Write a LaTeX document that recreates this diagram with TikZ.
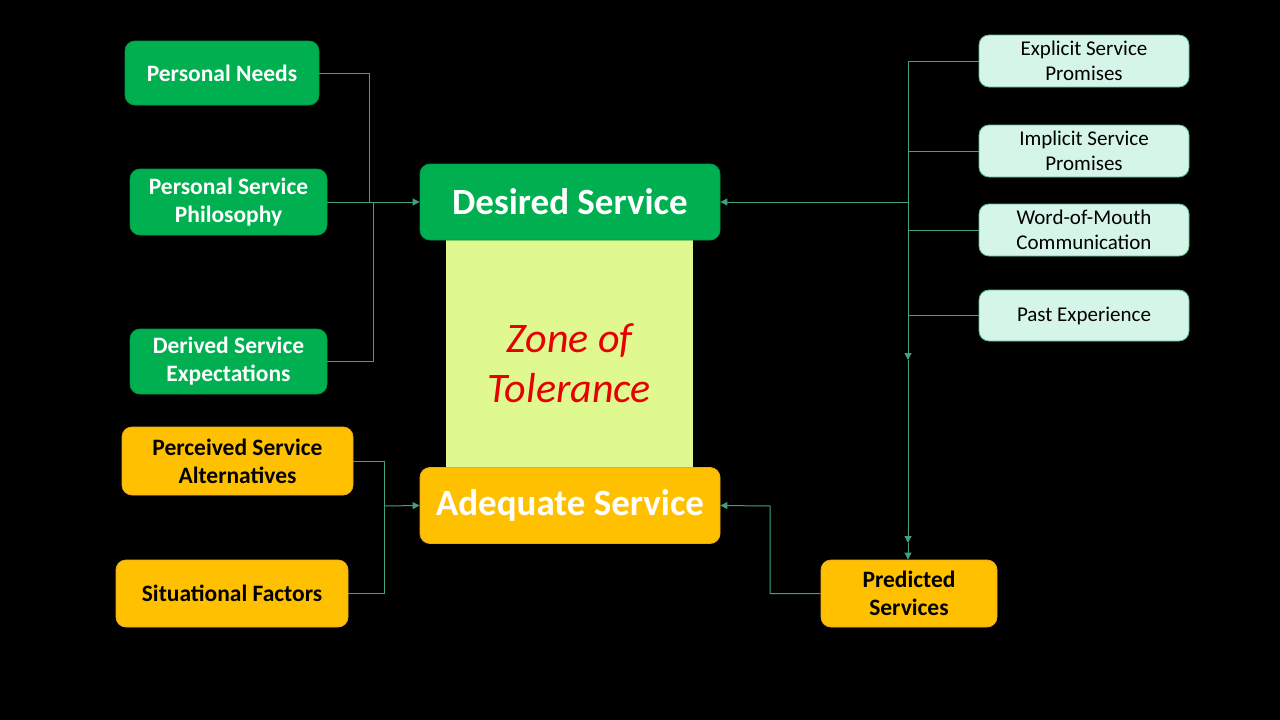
\documentclass[tikz,border=0pt]{standalone}
\usepackage{fontspec}
\setmainfont{Carlito}
\usetikzlibrary{arrows.meta}
\definecolor{grnfill}{RGB}{0,176,80}
\definecolor{grnline}{RGB}{0,150,70}
\definecolor{orfill}{RGB}{255,192,0}
\definecolor{orline}{RGB}{230,170,40}
\definecolor{mintfill}{RGB}{214,245,233}
\definecolor{mintline}{RGB}{90,190,140}
\definecolor{zonefill}{RGB}{224,248,144}
\definecolor{zonetext}{RGB}{230,0,0}
\definecolor{link}{RGB}{64,160,128}
\tikzset{
  x=1pt, y=-1pt,
  box/.style={rounded corners=10pt, align=center, inner sep=0pt, line width=0.8pt},
  greenbox/.style={box, fill=grnfill, draw=grnline, text=white,
    font=\bfseries\fontsize{23.5}{28}\selectfont},
  orangebox/.style={box, fill=orfill, draw=orline, text=black,
    font=\bfseries\fontsize{23.5}{28}\selectfont},
  mintbox/.style={box, fill=mintfill, draw=mintline, text=black,
    font=\fontsize{21}{25}\selectfont, minimum width=210pt, minimum height=52pt},
  bigbox/.style={box, text=white, minimum width=300pt, minimum height=76pt,
    font=\bfseries\fontsize{37}{44}\selectfont},
  link/.style={draw=link, line width=1pt},
  tip/.style={link, -{Triangle[length=7pt,width=7pt]}},
}
\begin{document}
\begin{tikzpicture}
\fill[black] (0,0) rectangle (1280,720);
\useasboundingbox (0,0) rectangle (1280,720);

% tolerance band between the two service levels
\node[fill=zonefill, minimum width=247pt, minimum height=228pt, inner sep=0pt]
  (zone) at (569.5,353) {};
\node[align=center, text=zonetext, inner sep=0pt,
      font=\itshape\fontsize{42}{50}\selectfont]
  (zonelabel) at (569.5,363) {Zone of\\Tolerance};

% central service levels
\node[bigbox, fill=grnfill, draw=grnline] (desired) at (570,202) {Desired Service};
\node[bigbox, fill=orfill, draw=orline] (adequate) at (570,505.5) {Adequate Service};

% left-hand drivers of desired service
\node[greenbox, minimum width=194pt, minimum height=64pt] (needs) at (222,73) {Personal Needs};
\node[greenbox, minimum width=197pt, minimum height=66pt] (philo) at (228.5,202) {Personal Service\\Philosophy};
\node[greenbox, minimum width=197pt, minimum height=65pt] (derived) at (228.5,361.5) {Derived Service\\Expectations};

% left-hand drivers of adequate service
\node[orangebox, minimum width=231pt, minimum height=68pt] (alts) at (237.5,461) {Perceived Service\\Alternatives};
\node[orangebox, minimum width=232pt, minimum height=67pt] (situ) at (232,593.5) {Situational Factors};

% right-hand drivers
\node[mintbox] (explicit) at (1084,61) {Explicit Service\\Promises};
\node[mintbox] (implicit) at (1084,151) {Implicit Service\\Promises};
\node[mintbox] (wom) at (1084,230) {Word-of-Mouth\\Communication};
\node[mintbox, minimum height=51pt] (past) at (1084,315.5) {Past Experience};

\node[orangebox, minimum width=176pt, minimum height=67pt] (pred) at (909,593.5) {Predicted\\Services};

% junction points
\coordinate (ljoinA) at (369,202);
\coordinate (ljoinB) at (373,202);
\coordinate (bjoin) at (384,506);
\coordinate (rtop) at (908,61);
\coordinate (rmid) at (908,202);
\coordinate (rarr) at (908,360);
\coordinate (rarr2) at (908,543);
\coordinate (pbend) at (770,506);

% left connectors into desired service
\draw[link] (needs.east) -| (ljoinA);
\draw[link] (derived.east) -| (ljoinB);
\draw[tip] (philo.east) -- (desired.west);

% left connectors into adequate service
\draw[link] (alts.east) -| (bjoin);
\draw[link] (situ.east) -| (bjoin);
\draw[tip] (bjoin) -- (adequate.west);

% right-hand bus
\draw[link] (explicit.west) -- (rtop);
\draw[link] (implicit.west) -- (implicit.west -| rtop);
\draw[link] (wom.west) -- (wom.west -| rtop);
\draw[link] (past.west) -- (past.west -| rtop);
\draw[tip] (rtop) -- (rarr);
\draw[tip] (rarr) -- (rarr2);
\draw[tip] (rarr2) -- (pred.north -| rtop);
\draw[tip] (rmid) -- (desired.east);

% predicted services back to adequate service
\draw[tip] (pred.west) -| (pbend) -- (adequate.east);
\end{tikzpicture}
\end{document}
